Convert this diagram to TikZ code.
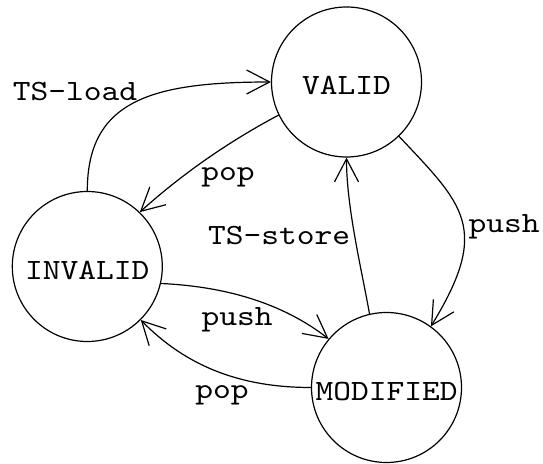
\documentclass[tikz,border=0pt]{standalone}
\usepackage{fontspec}
\newfontfamily\diagfont{lmmono10-regular.otf}[FakeStretch=1.15]
\usetikzlibrary{arrows.meta}
\tikzset{
  state/.style={draw, circle, line width=1.2pt, minimum size=150pt, inner sep=0pt,
    text height=26pt, text depth=0pt},
  edgearrow/.style={line width=1.2pt, -{Straight Barb[length=23pt,width=24pt]}},
  elabel/.style={inner sep=0pt},
}
\begin{document}
\begin{tikzpicture}[x=1pt,y=1pt,font=\diagfont\fontsize{29.4}{35}\selectfont]
\useasboundingbox (0,0) rectangle (543,463);
\node[state] (val) at (346.5,381) {VALID};
\node[state] (inv) at (87.3,196.5) {INVALID};
\node[state] (mod) at (386.5,75.5) {MODIFIED};

\draw[edgearrow] (inv.90) .. controls +(0,90) and +(-120,0) .. (val.180);
\draw[edgearrow] (val.206.7) .. controls +(-51,-27) and +(41,37) .. (inv.46.5);
\draw[edgearrow] (val.314.7) .. controls +(65,-69) and +(60,98) .. (mod.54);
\draw[edgearrow] (mod.103.2) .. controls +(-8,45) and +(0,-50) .. (val.270);
\draw[edgearrow] (inv.347.4) .. controls +(66,-3) and +(-45,35) .. (mod.140.8);
\draw[edgearrow] (mod.180) .. controls +(-71,0) and +(45,-46) .. (inv.315);

\node[elabel] (l1) at (75,371) {TS-load};
\node[elabel] (l2) at (228,286) {pop};
\node[elabel] (l3) at (504,236.5) {push};
\node[elabel] (l4) at (279,227) {TS-store};
\node[elabel] (l5) at (237,143) {push};
\node[elabel] (l6) at (222,68) {pop};
\end{tikzpicture}
\end{document}
